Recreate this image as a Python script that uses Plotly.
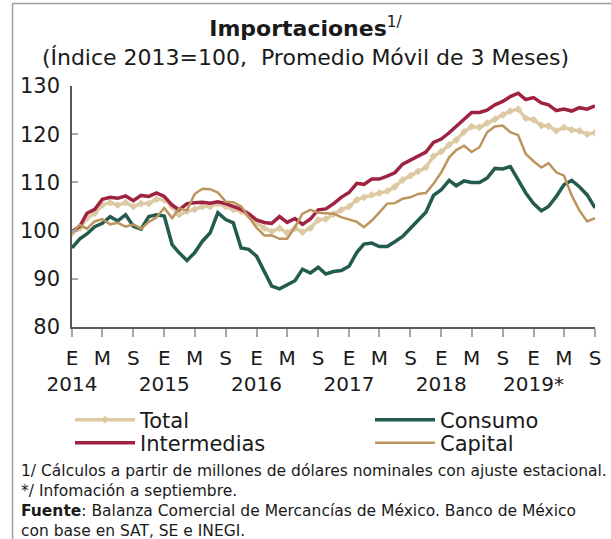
import pandas as pd
import plotly.graph_objects as go

months = pd.date_range("2014-01-01", periods=69, freq="MS")

total = [99.5,100.5,102.6,103.6,105.3,105.8,105.3,105.8,105.0,105.6,
         105.6,106.5,106.4,105.0,103.3,104.0,104.4,105.0,105.0,105.6,
         105.0,104.4,104.0,103.1,101.6,100.5,99.8,100.5,99.5,100.5,
         99.7,100.5,102.2,102.4,103.4,104.3,105.0,106.4,106.9,107.4,
         107.8,108.2,109.1,110.5,111.4,112.3,113.1,115.4,116.4,117.8,
         118.8,120.5,121.6,121.4,122.3,123.1,124.0,124.8,125.2,123.3,
         123.0,121.8,121.7,120.7,121.4,120.9,120.7,120.0,120.3]

intermedias = [99.8,100.9,103.6,104.4,106.5,106.9,106.7,107.2,106.2,107.3,
               107.1,107.8,107.1,105.3,104.3,105.6,105.8,105.9,105.7,106.0,
               105.6,105.0,104.4,103.5,102.2,101.7,101.5,102.9,101.7,102.5,
               101.3,102.4,104.3,104.5,105.6,106.9,107.9,109.8,109.6,110.7,
               110.7,111.3,112.0,113.8,114.7,115.5,116.3,118.3,119.0,120.3,
               121.6,123.1,124.5,124.5,125.0,126.1,126.8,127.8,128.5,127.2,
               127.6,126.5,126.1,124.9,125.2,124.8,125.5,125.2,125.9]

consumo = [96.4,98.3,99.3,100.8,101.5,102.9,102.0,103.3,100.9,100.3,
           102.9,103.3,103.0,97.1,95.4,93.8,95.4,97.8,99.5,103.7,
           102.3,101.6,96.4,96.1,94.7,91.6,88.5,87.9,88.7,89.6,
           92.0,91.2,92.4,91.0,91.5,91.7,92.6,95.5,97.2,97.4,
           96.7,96.7,97.7,98.8,100.5,102.2,103.8,107.3,108.5,110.4,
           109.3,110.3,110.0,110.0,110.9,112.9,112.8,113.3,110.5,107.8,
           105.6,104.1,105.0,107.1,109.5,110.4,109.1,107.4,104.7]

capital = [99.5,101.2,100.4,101.9,102.4,101.3,101.6,100.8,101.3,100.4,
           101.8,102.7,104.7,102.6,104.6,104.2,107.6,108.7,108.6,107.9,
           106.0,105.9,105.0,102.8,100.6,99.0,99.0,98.3,98.3,100.7,
           103.5,104.3,103.7,103.6,103.5,102.8,102.3,101.8,100.7,102.1,
           103.8,105.6,105.7,106.6,106.9,107.6,107.8,109.7,112.1,115.2,
           116.7,117.6,116.3,117.3,120.4,121.6,121.8,120.4,119.8,115.9,
           114.4,113.1,114.0,112.1,111.4,107.3,104.2,101.9,102.6]

month_labels = ["E", "M", "S"] * 6
year_labels = ["2014", "2015", "2016", "2017", "2018", "2019*"]
tick_vals = list(months[::4])
tick_text = []
for k, m in enumerate(month_labels):
    if k % 3 == 0:
        tick_text.append(m + "<br>" + year_labels[k // 3])
    else:
        tick_text.append(m)

C_TOTAL = "#DDC9A3"
C_CONS = "#235B4E"
C_INT = "#9F2241"
C_CAP = "#BC955C"
FONT = "DejaVu Sans"
TXT = "#1a1a1a"

fig = go.Figure()
fig.add_trace(go.Scatter(x=months, y=total, name="Total", mode="lines+markers",
                         line=dict(color=C_TOTAL, width=3.5),
                         marker=dict(symbol="diamond", size=6, color=C_TOTAL),
                         legend="legend"))
fig.add_trace(go.Scatter(x=months, y=consumo, name="Consumo", mode="lines",
                         line=dict(color=C_CONS, width=3.5), legend="legend2"))
fig.add_trace(go.Scatter(x=months, y=intermedias, name="Intermedias", mode="lines",
                         line=dict(color=C_INT, width=3.5), legend="legend3"))
fig.add_trace(go.Scatter(x=months, y=capital, name="Capital", mode="lines",
                         line=dict(color=C_CAP, width=2.5), legend="legend4"))

W, H = 611, 539
L, R, T, B = 72, 16, 86, 212
PW, PH = W - L - R, H - T - B

def px_x(p):
    return (p - L) / PW

def px_y(p):
    return (H - B - p) / PH

leg_common = dict(orientation="v", xanchor="left", yanchor="middle", itemwidth=60,
                  font=dict(size=21, family=FONT, color=TXT), bgcolor="rgba(0,0,0,0)")

fig.update_layout(
    width=W, height=H,
    margin=dict(l=L, r=R, t=T, b=B),
    paper_bgcolor="white", plot_bgcolor="white",
    font=dict(family=FONT, color=TXT),
    title=dict(text="<b>Importaciones</b><sup>1/</sup><br>(Índice 2013=100,  Promedio Móvil de 3 Meses)",
               x=0.5, xanchor="center", y=1 - 36 / H, yanchor="top",
               font=dict(size=22, family=FONT, color=TXT)),
    xaxis=dict(range=[months[0], months[-1]], tickmode="array", tickvals=tick_vals,
               ticktext=tick_text, tickangle=0, ticks="outside", ticklen=8,
               tickcolor="#a6a6a6", tickwidth=1.5, showline=True, linecolor="#595959",
               linewidth=1.5, showgrid=False, zeroline=False, automargin=False,
               tickfont=dict(size=20, family=FONT, color=TXT), ticklabelstandoff=4),
    xaxis2=dict(range=[months[0], months[-1]], overlaying="x", anchor="y",
                tickmode="array", tickvals=tick_vals, showticklabels=False,
                ticks="inside", ticklen=7, tickcolor="#a6a6a6", tickwidth=1.5,
                showline=False, showgrid=False, zeroline=False, side="bottom",
                automargin=False),
    yaxis=dict(range=[80, 130], dtick=10, ticks="inside", ticklen=6,
               tickcolor="#a6a6a6", tickwidth=1.5, showline=True,
               linecolor="#595959", linewidth=1.5, showgrid=False, zeroline=False,
               automargin=False, tickfont=dict(size=21, family=FONT, color=TXT),
               ticklabelstandoff=6),
    legend=dict(x=px_x(70), y=px_y(420), **leg_common),
    legend2=dict(x=px_x(370), y=px_y(420), **leg_common),
    legend3=dict(x=px_x(70), y=px_y(443), **leg_common),
    legend4=dict(x=px_x(370), y=px_y(443), **leg_common),
    showlegend=True,
)

fig.add_annotation(
    xref="paper", yref="paper", x=px_x(19), y=px_y(460), xanchor="left", yanchor="top",
    align="left", showarrow=False,
    text=("1/ Cálculos a partir de millones de dólares nominales con ajuste estacional.<br>"
          "*/ Infomación a septiembre.<br>"
          "<b>Fuente</b>: Balanza Comercial de Mercancías de México. Banco de México<br>"
          "con base en SAT, SE e INEGI."),
    font=dict(size=15.5, family=FONT, color=TXT),
)

fig.add_shape(type="line", xref="paper", yref="paper", x0=px_x(12.5), x1=px_x(12.5),
              y0=px_y(3.5), y1=px_y(545), line=dict(color="#a0a0a0", width=1.5))
fig.add_shape(type="line", xref="paper", yref="paper", x0=px_x(12.5), x1=px_x(620),
              y0=px_y(3.5), y1=px_y(3.5), line=dict(color="#a0a0a0", width=1.5))

fig.write_html("out.html", config={"displayModeBar": False},
               post_script="document.body.style.margin='0';")
